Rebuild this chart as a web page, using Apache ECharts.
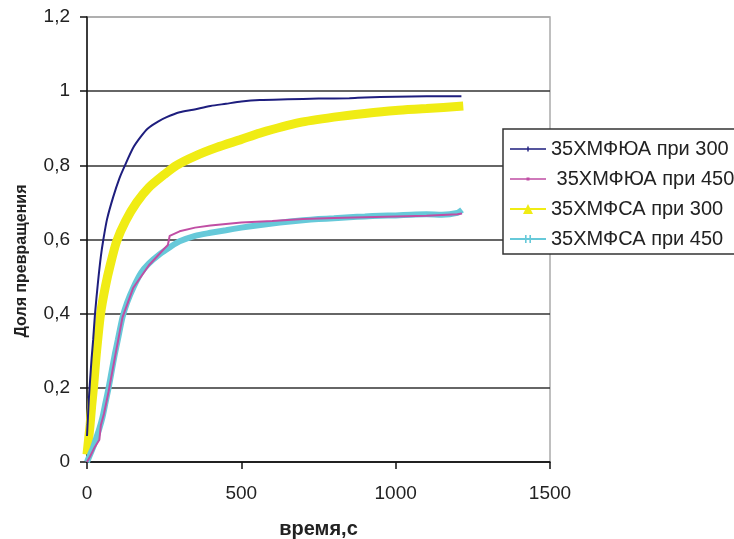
<!DOCTYPE html>
<html>
<head>
<meta charset="utf-8">
<script src="https://cdn.jsdelivr.net/npm/echarts@6/dist/echarts.min.js"></script>
<style>
  html, body { margin: 0; padding: 0; background: #fff; }
  #chart { width: 734px; height: 539px; }
</style>
</head>
<body>
<div id="chart"></div>
<script>
// series names (legend order)
var seriesNames = ['35ХМФЮА при 300', ' 35ХМФЮА при 450', '35ХМФСА при 300', '35ХМФСА при 450'];

// 35ХМФЮА при 300 (blue)
var t_ua300 = [0, 3, 6, 10, 15, 20, 26, 35, 45, 53, 65, 85, 105, 123, 150, 175, 198, 230, 258, 300, 344, 400, 450, 500, 560, 650, 750, 850, 900, 1000, 1100, 1213];
var v_ua300 = [0.07, 0.12, 0.17, 0.22, 0.28, 0.33, 0.4, 0.48, 0.555, 0.6, 0.655, 0.715, 0.765, 0.8, 0.848, 0.878, 0.9, 0.918, 0.93, 0.943, 0.95, 0.96, 0.966, 0.972, 0.976, 0.978, 0.98, 0.981, 0.983, 0.985, 0.986, 0.986];

// 35ХМФЮА при 450 (magenta)
var t_ua450 = [0, 10, 25, 40, 45, 55, 70, 90, 115, 150, 200, 250, 262, 268, 300, 350, 400, 450, 500, 600, 700, 800, 900, 1000, 1100, 1200, 1215];
var v_ua450 = [0, 0.015, 0.04, 0.06, 0.1, 0.13, 0.19, 0.28, 0.39, 0.47, 0.53, 0.575, 0.585, 0.61, 0.622, 0.632, 0.638, 0.642, 0.646, 0.65, 0.655, 0.658, 0.66, 0.662, 0.664, 0.668, 0.67];

// 35ХМФСА при 300 (yellow)
var t_sa300 = [0, 5, 10, 15, 22, 30, 44, 60, 75, 96, 125, 161, 200, 250, 290, 350, 420, 500, 560, 687, 800, 900, 1000, 1100, 1219];
var v_sa300 = [0.02, 0.06, 0.1, 0.15, 0.21, 0.29, 0.4, 0.475, 0.53, 0.595, 0.65, 0.7, 0.74, 0.775, 0.8, 0.825, 0.848, 0.87, 0.887, 0.915, 0.93, 0.94, 0.948, 0.953, 0.96];

// 35ХМФСА при 450 (cyan)
var t_sa450 = [0, 10, 20, 30, 40, 50, 60, 70, 80, 90, 100, 115, 130, 150, 175, 200, 235, 270, 300, 350, 400, 450, 500, 550, 600, 650, 700, 750, 800, 850, 900, 950, 1000, 1050, 1100, 1150, 1200, 1215];
var v_sa450 = [0, 0.02, 0.04, 0.065, 0.09, 0.12, 0.16, 0.2, 0.245, 0.29, 0.33, 0.39, 0.43, 0.47, 0.51, 0.535, 0.56, 0.58, 0.595, 0.61, 0.618, 0.625, 0.632, 0.638, 0.643, 0.648, 0.652, 0.655, 0.657, 0.66, 0.662, 0.664, 0.665, 0.667, 0.668, 0.667, 0.672, 0.68];

// axis ticks
var xMin = 0, xMax = 1500, xStep = 500;
var yMin = 0, yMax = 1.2, yStep = 0.2;

function pairs(t, v) {
  var out = [];
  for (var i = 0; i < t.length; i++) out.push([t[i], v[i]]);
  return out;
}

// legend icons: line with a small marker in the middle (36x12 box)
var icons = [
  'path://M0,5.3h36v1.4h-36z M17.3,3.5h1.4v5h-1.4z',
  'path://M0,5.3h36v1.4h-36z M16.5,4.5h3v3h-3z',
  'path://M0,5h36v2h-36z M13,11L18,1L23,11z',
  'path://M0,5h36v2h-36z M15,2h1.6v8h-1.6z M19.4,2h1.6v8h-1.6z'
];

var FONT = '"Liberation Sans", Arial, sans-serif';
var chart = echarts.init(document.getElementById('chart'));

var option = {
  animation: false,
  textStyle: { fontFamily: FONT },
  grid: {
    left: 87, right: 184, top: 17, bottom: 77,
    outerBoundsMode: 'none',
    show: true, borderColor: '#aaa', borderWidth: 1.5, backgroundColor: '#fff'
  },
  xAxis: {
    type: 'value',
    min: xMin, max: xMax, interval: xStep,
    name: 'время,с',
    nameLocation: 'middle',
    nameGap: 57,
    nameTextStyle: { fontSize: 20, fontWeight: 'bold', color: '#222', fontFamily: FONT },
    axisLine: { show: true, lineStyle: { color: '#111', width: 1.5 } },
    axisTick: { show: true, length: 7, lineStyle: { color: '#111', width: 1.5 } },
    axisLabel: {
      fontSize: 19, color: '#222', margin: 22, fontFamily: FONT,
      formatter: function (v) { return String(v); }
    },
    splitLine: { show: false }
  },
  yAxis: {
    type: 'value',
    min: yMin, max: yMax, interval: yStep,
    axisLine: { show: true, lineStyle: { color: '#111', width: 1.5 } },
    axisTick: { show: true, length: 7, lineStyle: { color: '#111', width: 1.5 } },
    axisLabel: {
      fontSize: 19, color: '#222', margin: 17, fontFamily: FONT,
      formatter: function (v) { return (Math.round(v * 10) / 10).toString().replace('.', ','); }
    },
    splitLine: {
      show: true,
      lineStyle: { color: ['#333', '#333', '#333', '#333', '#333', '#333', '#aaa'], width: 1.6 }
    }
  },
  graphic: [{
    type: 'text',
    x: 22, y: 261,
    rotation: Math.PI / 2,
    style: {
      text: 'Доля превращения',
      font: 'bold 16px ' + FONT,
      fill: '#222',
      align: 'center',
      verticalAlign: 'middle'
    }
  }],
  legend: {
    orient: 'vertical',
    left: 503, top: 129,
    padding: [10, 10, 5, 7],
    itemWidth: 36, itemHeight: 12, itemGap: 10,
    backgroundColor: '#fff',
    borderColor: '#333', borderWidth: 1.5,
    textStyle: { fontSize: 20, color: '#222', fontFamily: FONT },
    data: seriesNames.map(function (n, i) { return { name: n, icon: icons[i] }; })
  },
  series: [
    {
      name: seriesNames[2], type: 'line', data: pairs(t_sa300, v_sa300),
      color: '#f0ec14', showSymbol: false, smooth: 0.25,
      lineStyle: { width: 9, color: '#f0ec14' }
    },
    {
      name: seriesNames[3], type: 'line', data: pairs(t_sa450, v_sa450),
      color: '#66c9d9', showSymbol: false, smooth: 0.25,
      lineStyle: { width: 6, color: '#66c9d9' }
    },
    {
      name: seriesNames[1], type: 'line', data: pairs(t_ua450, v_ua450),
      color: '#c04ea4', showSymbol: false,
      lineStyle: { width: 2, color: '#c04ea4' }
    },
    {
      name: seriesNames[0], type: 'line', data: pairs(t_ua300, v_ua300),
      color: '#1e1e7e', showSymbol: false, smooth: 0.25,
      lineStyle: { width: 2, color: '#1e1e7e' }
    }
  ]
};

chart.setOption(option);
</script>
</body>
</html>
